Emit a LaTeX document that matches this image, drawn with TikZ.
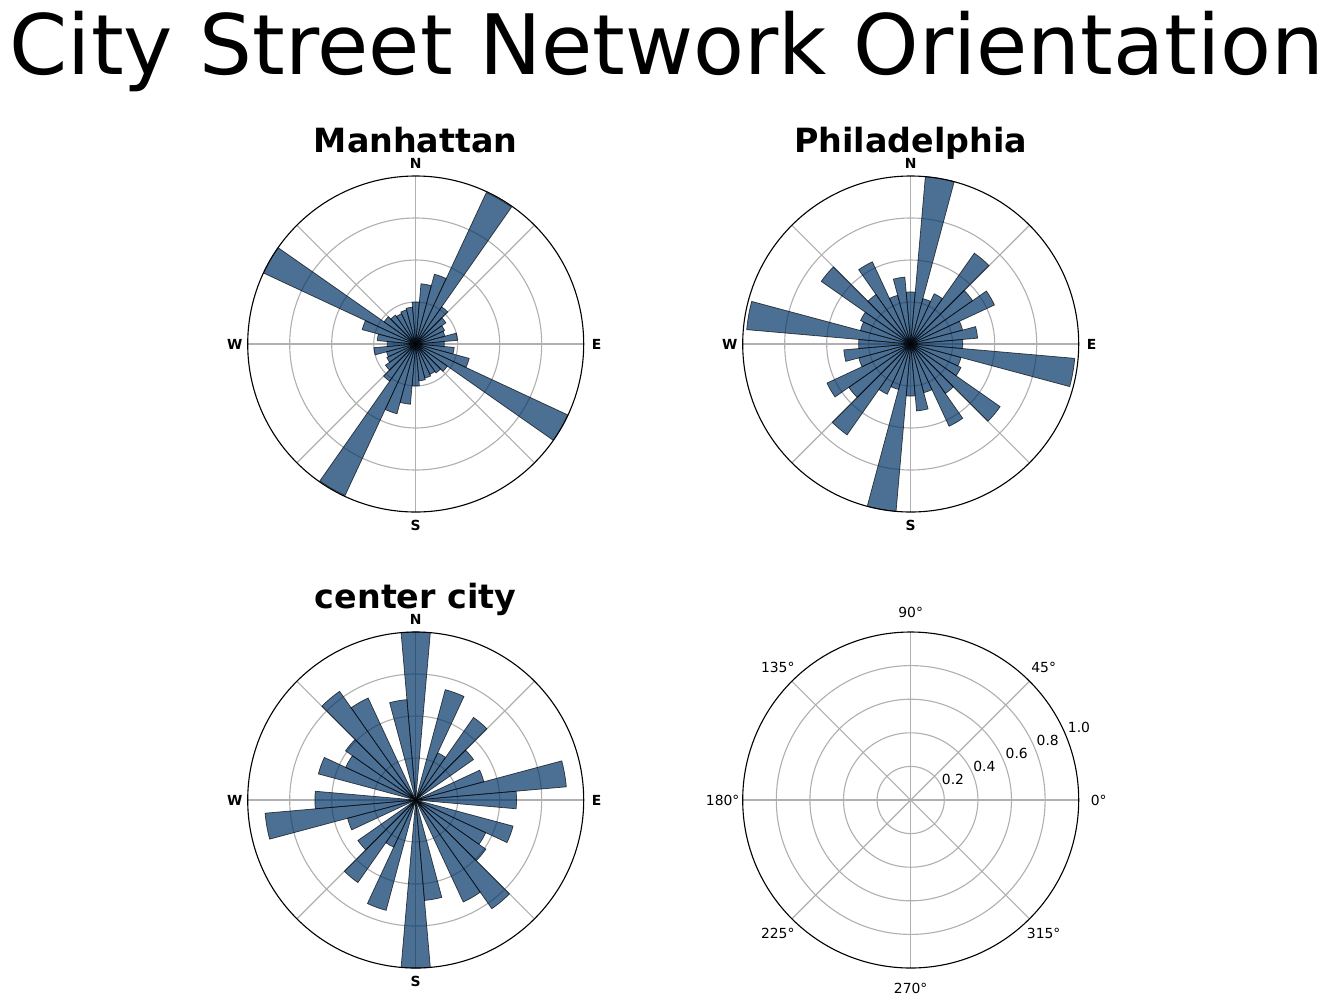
\documentclass[tikz,border=0pt]{standalone}
\usepackage{fontspec}
\setmainfont{DejaVu Sans}
\definecolor{barblue}{RGB}{0,51,102}
\definecolor{gridgray}{HTML}{B0B0B0}
\tikzset{
  gridline/.style={draw=gridgray, line width=0.8pt},
  spine/.style={draw=black, line width=0.8pt},
  bar/.style={fill=barblue, fill opacity=0.7, draw=black, draw opacity=0.7, line width=0.5pt, line join=miter},
  compass/.style={font=\fontsize{10}{12}\selectfont\bfseries, inner sep=0pt, anchor=center},
  ticklbl/.style={font=\fontsize{10}{12}\selectfont, inner sep=0pt, anchor=center},
  axtitle/.style={font=\fontsize{24}{28}\selectfont\bfseries, inner sep=0pt, anchor=base},
  figtitle/.style={font=\fontsize{60}{72}\selectfont, inner sep=0pt, anchor=base}
}
\newcommand\rosegrid{%
  \foreach \f in {0.25,0.5,0.75} \draw[gridline] (0,0) circle[radius=\f*168];
  \foreach \a in {0,45,...,315} \draw[gridline] (0,0) -- (\a:168);
}
\newcommand\rosebars[1]{%
  \foreach \t/\f in {#1}{
    \pgfmathsetmacro\rr{\f*168}
    \draw[bar] (0,0) -- ({\t-95}:\rr) arc[start angle={\t-95}, end angle={\t-85}, radius=\rr] -- cycle;
    \draw[bar] (0,0) -- ({\t+85}:\rr) arc[start angle={\t+85}, end angle={\t+95}, radius=\rr] -- cycle;
  }
}
\newcommand\rosecompass[1]{%
  \draw[spine] (0,0) circle[radius=168];
  \node[compass] (#1-n) at (0,-181) {N};
  \node[compass] (#1-s) at (0,181) {S};
  \node[compass] (#1-e) at (181,0) {E};
  \node[compass] (#1-w) at (-181,0) {W};
}
\begin{document}
\begin{tikzpicture}[x=0.72pt, y=-0.72pt]
\useasboundingbox (0,0) rectangle (1334,1005);
\node[figtitle] (suptitle) at (667,74) {City Street Network Orientation};

% Manhattan
\begin{scope}[shift={(415.7,344)}]
  \rosegrid
  \rosebars{0/.25, 10/.36, 20/.43, 30/.995, 40/.27, 50/.22, 60/.19, 70/.18, 80/.25, 90/.17, 100/.23, 110/.33, 120/1.0, 130/.23, 140/.21, 150/.20, 160/.21, 170/.22}
  \rosecompass{man}
  \node[axtitle] (title-man) at (0,-192) {Manhattan};
\end{scope}

% Philadelphia
\begin{scope}[shift={(910.7,344)}]
  \rosegrid
  \rosebars{0/.31, 10/1.0, 20/.28, 30/.33, 40/.66, 50/.45, 60/.55, 70/.32, 80/.40, 90/.31, 100/.98, 110/.31, 120/.33, 130/.65, 140/.36, 150/.54, 160/.30, 170/.40}
  \rosecompass{phi}
  \node[axtitle] (title-phi) at (0,-192) {Philadelphia};
\end{scope}

% center city
\begin{scope}[shift={(415.7,800)}]
  \rosegrid
  \rosebars{0/1.0, 20/.68, 30/.31, 40/.60, 50/.42, 70/.42, 80/.90, 90/.60, 110/.60, 120/.46, 130/.51, 140/.79, 150/.67, 170/.60}
  \rosecompass{cen}
  \node[axtitle] (title-cen) at (0,-192) {center city};
\end{scope}

% empty polar axes
\begin{scope}[shift={(910.7,800)}]
  \foreach \f in {0.2,0.4,0.6,0.8} \draw[gridline] (0,0) circle[radius=\f*168];
  \foreach \a in {0,45,...,315} \draw[gridline] (0,0) -- (\a:168);
  \draw[spine] (0,0) circle[radius=168];
  \foreach \a in {0,45,...,315} \node[ticklbl] (ang-\a) at (-\a:188) {\a°};
  \node[ticklbl] (rad-02) at (42.3,-21) {0.2};
  \node[ticklbl] (rad-04) at (73.6,-34) {0.4};
  \node[ticklbl] (rad-06) at (106,-46.7) {0.6};
  \node[ticklbl] (rad-08) at (137,-60) {0.8};
  \node[ticklbl] (rad-10) at (168.3,-72.7) {1.0};
\end{scope}
\end{tikzpicture}
\end{document}
